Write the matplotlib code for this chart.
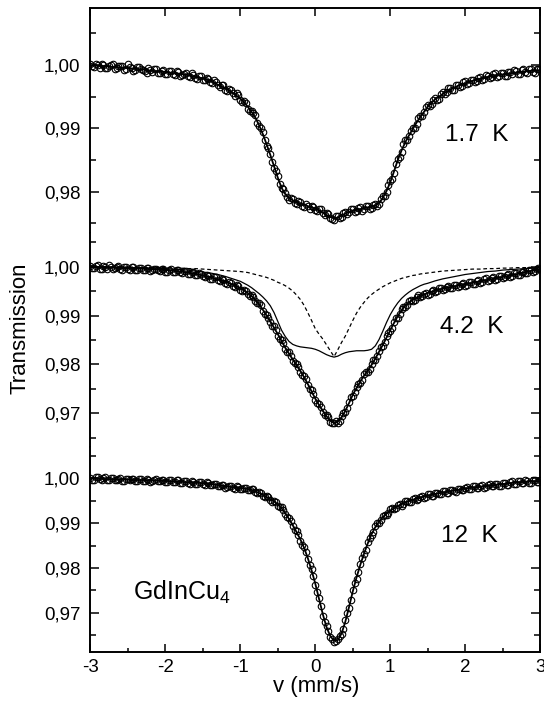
import numpy as np
import matplotlib.pyplot as plt
from matplotlib.ticker import MultipleLocator, FuncFormatter

plt.rcParams['font.family'] = ['Liberation Sans', 'DejaVu Sans']

# velocity grids (mm/s); the folded spectrum has two interleaved channel sets
v_data = np.round(np.arange(-3.0, 3.0001, 0.05), 3)
v_data_b = np.round(np.arange(-2.975, 2.98, 0.05), 3)
v_fit = np.round(np.concatenate([np.arange(-3.0, -1.05, 0.1),
                                 np.arange(-1.0, 1.475, 0.05),
                                 np.arange(1.5, 3.05, 0.1)]), 2)

# ---- 1.7 K ----
data_17 = [
    1.0001, 0.9997, 1.0000, 1.0002, 0.9995, 0.9998, 1.0002, 0.9995, 0.9999, 0.9992,
    1.0001, 0.9996, 0.9992, 0.9997, 0.9992, 0.9988, 0.9992, 0.9994, 0.9988, 0.9990,
    0.9986, 0.9990, 0.9986, 0.9990, 0.9983, 0.9986, 0.9982, 0.9987, 0.9980, 0.9982,
    0.9976, 0.9980, 0.9973, 0.9976, 0.9968, 0.9969, 0.9960, 0.9962, 0.9955, 0.9955,
    0.9945, 0.9943, 0.9931, 0.9927, 0.9921, 0.9903, 0.9894, 0.9872, 0.9860, 0.9838,
    0.9825, 0.9805, 0.9798, 0.9787, 0.9789, 0.9781, 0.9783, 0.9776, 0.9778, 0.9778,
    0.9771, 0.9772, 0.9766, 0.9766, 0.9758, 0.9755, 0.9761, 0.9760, 0.9768, 0.9767,
    0.9772, 0.9769, 0.9775, 0.9773, 0.9777, 0.9774, 0.9781, 0.9781, 0.9793, 0.9799,
    0.9817, 0.9829, 0.9852, 0.9863, 0.9881, 0.9888, 0.9901, 0.9906, 0.9920, 0.9925,
    0.9937, 0.9938, 0.9948, 0.9947, 0.9957, 0.9957, 0.9964, 0.9961, 0.9969, 0.9967,
    0.9975, 0.9972, 0.9977, 0.9974, 0.9981, 0.9978, 0.9983, 0.9981, 0.9987, 0.9982,
    0.9988, 0.9983, 0.9989, 0.9992, 0.9986, 0.9992, 0.9989, 0.9994, 0.9989, 0.9994,
    0.9993,
]
data_17_b = [
    0.9998, 1.0002, 0.9996, 1.0000, 0.9996, 1.0000, 0.9994, 0.9998, 0.9999, 0.9993,
    0.9997, 0.9991, 0.9997, 0.9994, 0.9990, 0.9995, 0.9989, 0.9993, 0.9987, 0.9992,
    0.9986, 0.9990, 0.9984, 0.9989, 0.9984, 0.9988, 0.9981, 0.9984, 0.9978, 0.9983,
    0.9976, 0.9978, 0.9971, 0.9973, 0.9965, 0.9968, 0.9959, 0.9960, 0.9951, 0.9952,
    0.9942, 0.9940, 0.9928, 0.9924, 0.9908, 0.9901, 0.9881, 0.9869, 0.9846, 0.9833,
    0.9812, 0.9804, 0.9791, 0.9790, 0.9782, 0.9785, 0.9778, 0.9780, 0.9773, 0.9776,
    0.9770, 0.9772, 0.9763, 0.9764, 0.9756, 0.9761, 0.9758, 0.9766, 0.9764, 0.9772,
    0.9768, 0.9774, 0.9770, 0.9778, 0.9773, 0.9779, 0.9778, 0.9789, 0.9793, 0.9810,
    0.9820, 0.9843, 0.9855, 0.9875, 0.9881, 0.9896, 0.9901, 0.9916, 0.9920, 0.9933,
    0.9935, 0.9945, 0.9945, 0.9954, 0.9954, 0.9963, 0.9960, 0.9968, 0.9965, 0.9973,
    0.9970, 0.9976, 0.9973, 0.9980, 0.9977, 0.9984, 0.9979, 0.9985, 0.9981, 0.9988,
    0.9983, 0.9989, 0.9985, 0.9990, 0.9986, 0.9993, 0.9988, 0.9993, 0.9988, 0.9994,
]
fit_17 = [
    0.9999, 0.9999, 0.9998, 0.9997, 0.9996, 0.9995, 0.9994, 0.9993, 0.9991, 0.9990,
    0.9989, 0.9987, 0.9986, 0.9984, 0.9981, 0.9979, 0.9975, 0.9969, 0.9963, 0.9956,
    0.9947, 0.9941, 0.9934, 0.9926, 0.9917, 0.9905, 0.9891, 0.9875, 0.9858, 0.9840,
    0.9822, 0.9806, 0.9796, 0.9790, 0.9786, 0.9783, 0.9781, 0.9779, 0.9777, 0.9775,
    0.9773, 0.9770, 0.9767, 0.9763, 0.9760, 0.9758, 0.9759, 0.9762, 0.9765, 0.9768,
    0.9770, 0.9771, 0.9772, 0.9774, 0.9775, 0.9776, 0.9778, 0.9782, 0.9790, 0.9801,
    0.9815, 0.9832, 0.9850, 0.9865, 0.9878, 0.9889, 0.9899, 0.9909, 0.9918, 0.9926,
    0.9934, 0.9946, 0.9954, 0.9961, 0.9967, 0.9971, 0.9975, 0.9978, 0.9981, 0.9983,
    0.9985, 0.9987, 0.9988, 0.9990, 0.9991, 0.9992,
]

# ---- 4.2 K ----
data_42 = [
    1.0002, 0.9998, 1.0003, 0.9996, 1.0000, 1.0003, 0.9995, 0.9999, 0.9995, 1.0000,
    0.9996, 1.0000, 0.9993, 0.9997, 0.9994, 0.9998, 0.9992, 0.9996, 0.9993, 0.9996,
    0.9990, 0.9994, 0.9990, 0.9994, 0.9989, 0.9991, 0.9985, 0.9989, 0.9983, 0.9987,
    0.9980, 0.9982, 0.9975, 0.9978, 0.9972, 0.9974, 0.9966, 0.9968, 0.9961, 0.9962,
    0.9953, 0.9953, 0.9944, 0.9943, 0.9930, 0.9925, 0.9909, 0.9902, 0.9887, 0.9878,
    0.9859, 0.9850, 0.9832, 0.9825, 0.9808, 0.9801, 0.9784, 0.9776, 0.9759, 0.9748,
    0.9728, 0.9719, 0.9703, 0.9696, 0.9682, 0.9681, 0.9681, 0.9695, 0.9703, 0.9723,
    0.9735, 0.9754, 0.9763, 0.9780, 0.9785, 0.9801, 0.9809, 0.9828, 0.9838, 0.9858,
    0.9868, 0.9887, 0.9896, 0.9913, 0.9918, 0.9930, 0.9930, 0.9938, 0.9937, 0.9945,
    0.9943, 0.9951, 0.9949, 0.9956, 0.9952, 0.9959, 0.9956, 0.9963, 0.9959, 0.9965,
    0.9961, 0.9969, 0.9965, 0.9971, 0.9967, 0.9975, 0.9971, 0.9977, 0.9973, 0.9981,
    0.9977, 0.9983, 0.9979, 0.9987, 0.9983, 0.9989, 0.9986, 0.9993, 0.9990, 0.9996,
    0.9996,
]
data_42_b = [
    0.9997, 1.0001, 0.9996, 1.0001, 0.9996, 1.0000, 0.9997, 1.0001, 0.9994, 0.9999,
    0.9994, 0.9999, 0.9994, 0.9998, 0.9993, 0.9998, 0.9993, 0.9996, 0.9991, 0.9995,
    0.9990, 0.9995, 0.9989, 0.9993, 0.9987, 0.9991, 0.9985, 0.9989, 0.9982, 0.9985,
    0.9978, 0.9981, 0.9975, 0.9978, 0.9970, 0.9972, 0.9965, 0.9967, 0.9959, 0.9961,
    0.9951, 0.9951, 0.9940, 0.9938, 0.9925, 0.9921, 0.9904, 0.9896, 0.9879, 0.9871,
    0.9853, 0.9844, 0.9826, 0.9818, 0.9802, 0.9795, 0.9778, 0.9770, 0.9750, 0.9740,
    0.9721, 0.9713, 0.9697, 0.9693, 0.9680, 0.9684, 0.9685, 0.9701, 0.9711, 0.9733,
    0.9743, 0.9761, 0.9768, 0.9784, 0.9791, 0.9809, 0.9817, 0.9835, 0.9845, 0.9865,
    0.9875, 0.9895, 0.9903, 0.9918, 0.9921, 0.9932, 0.9932, 0.9941, 0.9940, 0.9947,
    0.9945, 0.9952, 0.9950, 0.9957, 0.9954, 0.9960, 0.9956, 0.9963, 0.9960, 0.9967,
    0.9963, 0.9969, 0.9965, 0.9972, 0.9969, 0.9976, 0.9972, 0.9978, 0.9974, 0.9981,
    0.9978, 0.9985, 0.9981, 0.9987, 0.9983, 0.9990, 0.9988, 0.9994, 0.9991, 0.9997,
]
fit_42 = [
    0.9999, 0.9999, 0.9998, 0.9998, 0.9997, 0.9997, 0.9996, 0.9996, 0.9995, 0.9994,
    0.9993, 0.9992, 0.9990, 0.9988, 0.9985, 0.9982, 0.9978, 0.9974, 0.9969, 0.9963,
    0.9956, 0.9951, 0.9946, 0.9940, 0.9932, 0.9923, 0.9912, 0.9900, 0.9888, 0.9875,
    0.9862, 0.9848, 0.9834, 0.9822, 0.9810, 0.9799, 0.9787, 0.9774, 0.9760, 0.9745,
    0.9730, 0.9717, 0.9705, 0.9694, 0.9685, 0.9680, 0.9683, 0.9692, 0.9705, 0.9721,
    0.9738, 0.9752, 0.9765, 0.9777, 0.9787, 0.9799, 0.9812, 0.9826, 0.9840, 0.9855,
    0.9870, 0.9885, 0.9899, 0.9911, 0.9920, 0.9927, 0.9932, 0.9936, 0.9940, 0.9943,
    0.9946, 0.9951, 0.9955, 0.9958, 0.9961, 0.9964, 0.9967, 0.9970, 0.9973, 0.9976,
    0.9979, 0.9982, 0.9985, 0.9989, 0.9992, 0.9995,
]
# paramagnetic singlet (dashed) and magnetic subspectrum (thin solid)
sub_singlet_42 = [
    1.0000, 1.0000, 1.0000, 0.9999, 0.9999, 0.9999, 0.9999, 0.9998, 0.9998, 0.9998,
    0.9998, 0.9997, 0.9997, 0.9996, 0.9996, 0.9995, 0.9994, 0.9993, 0.9992, 0.9991,
    0.9990, 0.9989, 0.9988, 0.9986, 0.9984, 0.9982, 0.9980, 0.9978, 0.9975, 0.9972,
    0.9968, 0.9965, 0.9961, 0.9956, 0.9950, 0.9942, 0.9933, 0.9921, 0.9906, 0.9890,
    0.9873, 0.9862, 0.9852, 0.9840, 0.9828, 0.9816, 0.9830, 0.9845, 0.9858, 0.9874,
    0.9890, 0.9905, 0.9917, 0.9927, 0.9936, 0.9943, 0.9949, 0.9954, 0.9959, 0.9963,
    0.9967, 0.9970, 0.9973, 0.9976, 0.9978, 0.9980, 0.9982, 0.9983, 0.9985, 0.9986,
    0.9987, 0.9989, 0.9991, 0.9992, 0.9993, 0.9994, 0.9995, 0.9995, 0.9996, 0.9996,
    0.9997, 0.9997, 0.9998, 0.9998, 0.9998, 0.9999,
]
sub_magnetic_42 = [
    1.0000, 1.0000, 0.9999, 0.9999, 0.9999, 0.9998, 0.9998, 0.9998, 0.9997, 0.9997,
    0.9996, 0.9995, 0.9994, 0.9993, 0.9991, 0.9989, 0.9987, 0.9984, 0.9980, 0.9975,
    0.9970, 0.9966, 0.9962, 0.9957, 0.9951, 0.9945, 0.9938, 0.9930, 0.9920, 0.9906,
    0.9888, 0.9870, 0.9857, 0.9847, 0.9841, 0.9838, 0.9836, 0.9835, 0.9834, 0.9833,
    0.9831, 0.9828, 0.9824, 0.9820, 0.9817, 0.9815, 0.9817, 0.9821, 0.9824, 0.9826,
    0.9827, 0.9828, 0.9828, 0.9828, 0.9829, 0.9831, 0.9838, 0.9851, 0.9868, 0.9886,
    0.9902, 0.9915, 0.9926, 0.9935, 0.9942, 0.9948, 0.9953, 0.9957, 0.9961, 0.9964,
    0.9966, 0.9971, 0.9975, 0.9978, 0.9981, 0.9984, 0.9986, 0.9988, 0.9990, 0.9991,
    0.9993, 0.9994, 0.9995, 0.9996, 0.9997, 0.9997,
]

# ---- 12 K ----
data_12 = [
    1.0001, 0.9997, 1.0002, 0.9997, 1.0002, 0.9995, 1.0000, 0.9995, 1.0000, 0.9993,
    0.9998, 0.9999, 0.9993, 0.9998, 0.9994, 0.9999, 0.9992, 0.9996, 0.9993, 0.9997,
    0.9991, 0.9995, 0.9991, 0.9995, 0.9989, 0.9993, 0.9990, 0.9993, 0.9987, 0.9991,
    0.9987, 0.9991, 0.9984, 0.9988, 0.9983, 0.9986, 0.9979, 0.9983, 0.9978, 0.9982,
    0.9975, 0.9979, 0.9974, 0.9977, 0.9969, 0.9969, 0.9960, 0.9961, 0.9951, 0.9950,
    0.9939, 0.9935, 0.9920, 0.9912, 0.9893, 0.9882, 0.9861, 0.9847, 0.9820, 0.9798,
    0.9763, 0.9733, 0.9694, 0.9670, 0.9646, 0.9635, 0.9641, 0.9652, 0.9683, 0.9711,
    0.9750, 0.9776, 0.9809, 0.9830, 0.9858, 0.9873, 0.9893, 0.9900, 0.9915, 0.9919,
    0.9931, 0.9931, 0.9940, 0.9939, 0.9949, 0.9947, 0.9954, 0.9952, 0.9959, 0.9957,
    0.9964, 0.9960, 0.9967, 0.9964, 0.9971, 0.9967, 0.9973, 0.9971, 0.9977, 0.9974,
    0.9979, 0.9975, 0.9982, 0.9978, 0.9983, 0.9979, 0.9986, 0.9982, 0.9987, 0.9983,
    0.9990, 0.9986, 0.9991, 0.9987, 0.9994, 0.9990, 0.9995, 0.9990, 0.9996, 0.9991,
    0.9996,
]
data_12_b = [
    0.9997, 1.0002, 0.9998, 1.0000, 0.9995, 1.0001, 0.9996, 0.9999, 0.9994, 0.9999,
    0.9995, 0.9999, 0.9994, 0.9998, 0.9993, 0.9997, 0.9993, 0.9998, 0.9993, 0.9996,
    0.9991, 0.9995, 0.9991, 0.9995, 0.9990, 0.9993, 0.9988, 0.9992, 0.9988, 0.9992,
    0.9986, 0.9990, 0.9984, 0.9988, 0.9982, 0.9986, 0.9980, 0.9983, 0.9977, 0.9981,
    0.9976, 0.9979, 0.9973, 0.9975, 0.9966, 0.9967, 0.9958, 0.9958, 0.9948, 0.9947,
    0.9935, 0.9930, 0.9913, 0.9905, 0.9885, 0.9874, 0.9852, 0.9836, 0.9806, 0.9783,
    0.9746, 0.9716, 0.9680, 0.9660, 0.9641, 0.9637, 0.9649, 0.9664, 0.9699, 0.9728,
    0.9767, 0.9791, 0.9822, 0.9841, 0.9867, 0.9881, 0.9900, 0.9906, 0.9919, 0.9922,
    0.9933, 0.9933, 0.9943, 0.9942, 0.9950, 0.9948, 0.9956, 0.9954, 0.9961, 0.9958,
    0.9964, 0.9961, 0.9968, 0.9965, 0.9972, 0.9968, 0.9974, 0.9970, 0.9977, 0.9974,
    0.9981, 0.9976, 0.9982, 0.9978, 0.9984, 0.9980, 0.9987, 0.9982, 0.9988, 0.9983,
    0.9990, 0.9986, 0.9993, 0.9988, 0.9993, 0.9989, 0.9994, 0.9990, 0.9996, 0.9992,
]
fit_12 = [
    0.9999, 0.9999, 0.9998, 0.9998, 0.9997, 0.9997, 0.9996, 0.9996, 0.9995, 0.9995,
    0.9994, 0.9993, 0.9992, 0.9991, 0.9990, 0.9989, 0.9987, 0.9985, 0.9982, 0.9980,
    0.9978, 0.9977, 0.9976, 0.9974, 0.9971, 0.9967, 0.9963, 0.9958, 0.9953, 0.9948,
    0.9942, 0.9933, 0.9922, 0.9909, 0.9895, 0.9880, 0.9864, 0.9845, 0.9822, 0.9795,
    0.9765, 0.9731, 0.9697, 0.9668, 0.9648, 0.9638, 0.9639, 0.9654, 0.9680, 0.9713,
    0.9748, 0.9779, 0.9807, 0.9832, 0.9855, 0.9875, 0.9891, 0.9903, 0.9913, 0.9921,
    0.9928, 0.9933, 0.9938, 0.9942, 0.9946, 0.9949, 0.9952, 0.9955, 0.9957, 0.9959,
    0.9961, 0.9965, 0.9968, 0.9971, 0.9974, 0.9977, 0.9979, 0.9981, 0.9983, 0.9985,
    0.9987, 0.9989, 0.9991, 0.9992, 0.9993, 0.9994,
]

labels = ['1.7  K', '4.2  K', '12  K']


def comma_fmt(y, pos):
    return f'{y:.2f}'.replace('.', ',')


def x_fmt(x, pos):
    if abs(x) < 1e-9:
        return '0'
    return f'{x:.0f}'


fig = plt.figure(figsize=(5.44, 7.06), dpi=100)
W_PX, H_PX = 544, 706
left = 90.3 / W_PX
width = 450.0 / W_PX
# (top px, bottom px) of each panel
bands = [(8, 233), (233, 447), (447, 652.3)]
ylims = [(0.97346, 1.0090), (0.96312, 1.00688), (0.9612, 1.00696)]

axes = []
for (top, bot), yl in zip(bands, ylims):
    ax = fig.add_axes([left, 1 - bot / H_PX, width, (bot - top) / H_PX])
    ax.set_xlim(-3, 3)
    ax.set_ylim(*yl)
    ax.yaxis.set_major_locator(MultipleLocator(0.01))
    ax.yaxis.set_minor_locator(MultipleLocator(0.005))
    ax.yaxis.set_major_formatter(FuncFormatter(comma_fmt))
    ax.xaxis.set_major_locator(MultipleLocator(1))
    ax.xaxis.set_minor_locator(MultipleLocator(0.5))
    ax.xaxis.set_major_formatter(FuncFormatter(x_fmt))
    ax.tick_params(axis='y', which='both', direction='in', left=True, right=True,
                   width=1.1, labelsize=13.5, pad=7)
    ax.tick_params(axis='y', which='major', length=6.5)
    ax.tick_params(axis='y', which='minor', length=4.5)
    for s in ax.spines.values():
        s.set_linewidth(1.4)
    axes.append(ax)

ax1, ax2, ax3 = axes
ax1.spines['bottom'].set_visible(False)
ax2.spines['top'].set_visible(False)
ax2.spines['bottom'].set_visible(False)
ax3.spines['top'].set_visible(False)

ax1.tick_params(axis='x', which='major', direction='in', top=True, bottom=False,
                labelbottom=False, length=6, width=1.1)
ax1.tick_params(axis='x', which='minor', top=False, bottom=False)
ax2.tick_params(axis='x', which='both', top=False, bottom=False, labelbottom=False)
ax3.tick_params(axis='x', which='both', direction='in', top=False, bottom=True,
                width=1.1, labelsize=13.5, pad=5)
ax3.tick_params(axis='x', which='major', length=5.5)
ax3.tick_params(axis='x', which='minor', length=3)

mk = dict(ls='none', marker='o', ms=4.7, mfc='none', mec='black', mew=0.8)

for ax, a, b in [(ax1, data_17, data_17_b), (ax2, data_42, data_42_b),
                 (ax3, data_12, data_12_b)]:
    ax.plot(v_data, a, **mk)
    ax.plot(v_data_b, b, **mk)

ax2.plot(v_fit, sub_singlet_42, color='black', lw=0.9, ls=(0, (3, 2.2)))
ax2.plot(v_fit, sub_magnetic_42, color='black', lw=0.9)

ax1.plot(v_fit, fit_17, color='black', lw=1.3)
ax2.plot(v_fit, fit_42, color='black', lw=1.3)
ax3.plot(v_fit, fit_12, color='black', lw=1.3)

ax1.text(2.156, 0.98894, labels[0], ha='center', va='center', fontsize=17.5)
ax2.text(2.09, 0.98769, labels[1], ha='center', va='center', fontsize=17.5)
ax3.text(2.05, 0.98718, labels[2], ha='center', va='center', fontsize=17.5)
ax3.text(-2.43, 0.97296, r'GdInCu$_\mathregular{4}$', ha='left', va='baseline',
         fontsize=18)

fig.text(20.5 / W_PX, 1 - 328 / H_PX, 'Transmission', rotation=90,
         ha='center', va='center', fontsize=16)
fig.text(316 / W_PX, 1 - 686.7 / H_PX, 'v (mm/s)', ha='center', va='center',
         fontsize=16)

fig.savefig('out.png', dpi=100)
